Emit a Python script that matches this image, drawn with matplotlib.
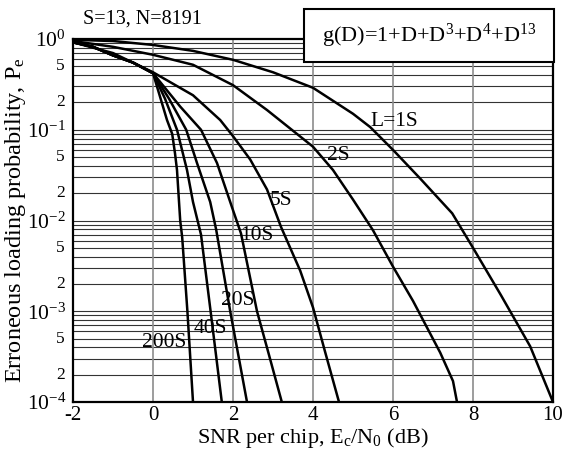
import matplotlib
matplotlib.use("Agg")
import matplotlib.pyplot as plt
from matplotlib.ticker import FixedLocator, NullFormatter
from matplotlib.patches import Rectangle

plt.rcParams["font.family"] = ["Liberation Serif", "DejaVu Serif"]
plt.rcParams["mathtext.fontset"] = "custom"
plt.rcParams["mathtext.rm"] = "Liberation Serif"
plt.rcParams["mathtext.it"] = "Liberation Serif"

# ── curves (SNR in dB, Pe)
snr_1s = [-2, -1, 0, 1, 2, 3, 4, 5, 5.43, 6, 6.68, 7.48, 8, 8.7, 9.43, 10]
pe_1s = [0.98, 0.95, 0.86, 0.74, 0.59, 0.43, 0.29, 0.15, 0.107, 0.060, 0.029, 0.012, 0.005, 0.0015, 4.1e-4, 1e-4]

snr_2s = [-2, -1, 0, 1, 2, 2.85, 4, 4.5, 5, 5.5, 6, 6.5, 7.18, 7.5, 7.6]
pe_2s = [0.95, 0.82, 0.67, 0.52, 0.31, 0.165, 0.065, 0.036, 0.017, 0.0078, 0.0031, 0.0013, 3.5e-4, 1.7e-4, 1e-4]

snr_5s = [-2, -1, 0, 1, 1.68, 2, 2.43, 2.85, 3.2, 3.68, 4.0, 4.3, 4.65]
pe_5s = [0.92, 0.70, 0.43, 0.24, 0.128, 0.085, 0.047, 0.022, 0.0085, 0.0028, 0.0011, 3.6e-4, 1e-4]

snr_10s = [-2, -1.5, -1, -0.5, 0, 0.68, 1.2, 1.6, 2.0, 2.2, 2.6, 2.9, 3.22]
pe_10s = [0.92, 0.82, 0.66, 0.55, 0.42, 0.18, 0.10, 0.043, 0.013, 0.0072, 1e-3, 3.3e-4, 1e-4]

snr_20s = [-2, -1.5, -1, -0.5, 0, 0.4, 0.83, 1.1, 1.43, 1.58, 1.93, 2.35]
pe_20s = [0.92, 0.82, 0.66, 0.55, 0.42, 0.22, 0.10, 0.043, 0.016, 0.0079, 1e-3, 1e-4]

snr_40s = [-2, -1.5, -1, -0.5, 0, 0.3, 0.6, 0.85, 1.0, 1.2, 1.44, 1.72]
pe_40s = [0.92, 0.82, 0.66, 0.55, 0.42, 0.22, 0.10, 0.036, 0.016, 0.007, 1e-3, 1e-4]

snr_200s = [-2, -1.5, -1, -0.5, 0, 0.35, 0.48, 0.55, 0.6, 0.68, 0.73, 0.86, 1.0]
pe_200s = [0.92, 0.82, 0.66, 0.55, 0.42, 0.128, 0.09, 0.055, 0.036, 0.01, 0.0065, 1e-3, 1e-4]

curves = [
    (snr_1s, pe_1s), (snr_2s, pe_2s), (snr_5s, pe_5s), (snr_10s, pe_10s),
    (snr_20s, pe_20s), (snr_40s, pe_40s), (snr_200s, pe_200s),
]

# label text and anchor (data coords)
curve_labels = ["L=1S", "2S", "5S", "10S", "20S", "40S", "200S"]
label_x = [6.03, 4.63, 3.2, 2.6, 2.13, 1.43, 0.28]
label_y = [0.122, 0.0514, 0.0168, 0.00675, 0.00133, 6.5e-4, 4.47e-4]

x_ticks = [-2, 0, 2, 4, 6, 8, 10]
major_y = [1e-4, 1e-3, 1e-2, 1e-1, 1e0]
major_y_labels = ["$10^{-4}$", "$10^{-3}$", "$10^{-2}$", "$10^{-1}$", "$10^{0}$"]
minor_y = [d * m for d in [1e-4, 1e-3, 1e-2, 1e-1] for m in (2, 5)]
minor_y_labels = ["2", "5"] * 4

fig = plt.figure(figsize=(5.64, 4.51), dpi=100)
ax = fig.add_axes([73 / 564, 49 / 451, 480 / 564, 363 / 451])
ax.set_yscale("log")
ax.set_xlim(-2, 10)
ax.set_ylim(1e-4, 1)

# grid: every minor decade step horizontally, every 2 dB vertically
for dec in [1e-4, 1e-3, 1e-2, 1e-1]:
    for m in range(1, 10):
        ax.axhline(dec * m, color="0.2", lw=0.8, zorder=1)
for xv in x_ticks[1:-1]:
    ax.axvline(xv, color="0.55", lw=1.2, zorder=1)

for sx, sy in curves:
    ax.plot(sx, sy, color="black", lw=1.8, zorder=3)

for txt, lx, ly in zip(curve_labels, label_x, label_y):
    ax.text(lx, ly, txt, fontsize=15.5, ha="center", va="center", zorder=4)

# ticks
ax.set_xticks(x_ticks)
ax.set_xticklabels([str(v) for v in x_ticks], fontsize=15)
ax.yaxis.set_major_locator(FixedLocator(major_y))
ax.set_yticklabels(major_y_labels, fontsize=15.5)
ax.yaxis.set_minor_locator(FixedLocator(minor_y))
ax.yaxis.set_minor_formatter(NullFormatter())
ax.tick_params(axis="both", which="both", length=0)
ax.tick_params(axis="x", pad=3)
ax.tick_params(axis="y", pad=5)
for yv, lab in zip(minor_y, minor_y_labels):
    ax.annotate(lab, xy=(0, yv), xycoords=("axes fraction", "data"),
                xytext=(-6, 0), textcoords="offset points",
                ha="right", va="center", fontsize=12.5)

for sp in ax.spines.values():
    sp.set_linewidth(1.6)
    sp.set_zorder(5)

ax.set_ylabel("Erroneous loading probability, P$_e$", fontsize=17.5, labelpad=-1)
fig.text(313 / 564, 1 - 438 / 451, "SNR per chip, E$_c$/N$_0$ (dB)",
         fontsize=16, ha="center", va="center")

fig.text(83 / 564, 1 - 19 / 451, "S=13, N=8191", fontsize=14.5, va="center", ha="left")

# equation box, overlapping top of axes
box = Rectangle((304 / 564, 1 - 62 / 451), 250 / 564, 53 / 451, transform=fig.transFigure,
                facecolor="white", edgecolor="black", lw=1.5, zorder=10)
fig.patches.append(box)
fig.text(429 / 564, 1 - 36 / 451,
         "g(D)=1+D+D$^{3}$+D$^{4}$+D$^{13}$", fontsize=16, ha="center", va="center", zorder=11)

fig.savefig("out.png", dpi=100)
